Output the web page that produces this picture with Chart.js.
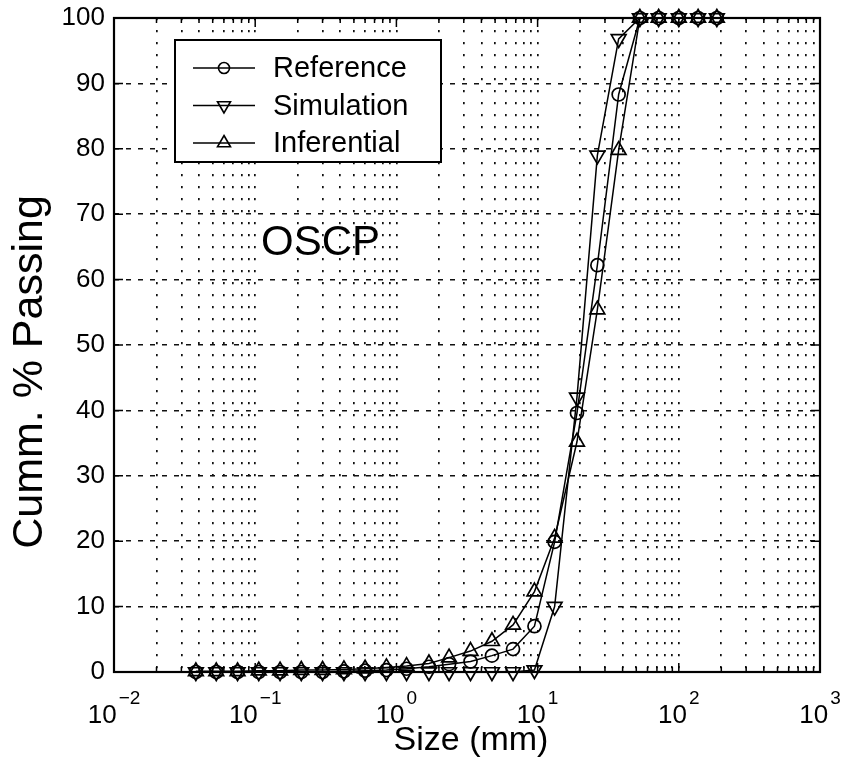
<!DOCTYPE html>
<html>
<head>
<meta charset="utf-8">
<script src="https://cdn.jsdelivr.net/npm/chart.js@4/dist/chart.umd.min.js"></script>
<style>
  html, body { margin: 0; padding: 0; background: #fff; }
  #wrap { width: 847px; height: 769px; }
</style>
</head>
<body>
<div id="wrap"><canvas id="c" width="847" height="769"></canvas></div>
<script>
// Sieve sizes (mm) and cumulative % passing for each method
const sizes = [0.038, 0.053, 0.075, 0.106, 0.15, 0.212, 0.3, 0.425, 0.6, 0.85,
               1.18, 1.7, 2.36, 3.35, 4.75, 6.7, 9.5, 13.2, 19, 26.5,
               37.5, 53, 72, 100, 137, 186];
const reference = [0, 0, 0, 0, 0, 0, 0, 0.1, 0.2, 0.3,
                   0.5, 0.8, 1.2, 1.6, 2.5, 3.5, 7, 19.9, 39.6, 62.2,
                   88.3, 100, 100, 100, 100, 100];
const simulation = [0, 0, 0, 0, 0, 0, 0, 0, 0, 0,
                    0, 0, 0, 0, 0, 0, 0.3, 10, 42, 79,
                    96.8, 100, 100, 100, 100, 100];
const inferential = [0.1, 0.1, 0.1, 0.2, 0.2, 0.3, 0.3, 0.4, 0.5, 0.7,
                     0.9, 1.3, 2.2, 3.2, 4.7, 7.2, 12.3, 20.5, 35.2, 55.4,
                     79.8, 100, 100, 100, 100, 100];

const seriesNames = ['Reference', 'Simulation', 'Inferential'];
const yTickValues = [0, 10, 20, 30, 40, 50, 60, 70, 80, 90, 100];
const xDecades = [-2, -1, 0, 1, 2, 3];
const xTitle = 'Size (mm)';
const yTitle = 'Cumm. % Passing';
const panelLabel = 'OSCP';
const panelLabelAt = { x: 0.29, y: 65.5 };

const FONT = '"Liberation Sans", Arial, Helvetica, sans-serif';

function toPoints(vals) {
  return sizes.map((s, i) => ({ x: s, y: vals[i] }));
}

const markerStyles = [
  { pointStyle: 'circle', rotation: 0, radius: 6.5 },
  { pointStyle: 'triangle', rotation: 180, radius: 8.5 },
  { pointStyle: 'triangle', rotation: 0, radius: 8.5 }
];

const seriesValues = [reference, simulation, inferential];

const datasets = seriesValues.map((vals, i) => ({
  label: seriesNames[i],
  data: toPoints(vals),
  borderColor: '#000',
  borderWidth: 1.5,
  backgroundColor: 'rgba(0,0,0,0)',
  pointStyle: markerStyles[i].pointStyle,
  pointRotation: markerStyles[i].rotation,
  pointRadius: markerStyles[i].radius,
  pointBorderWidth: 1.7,
  pointBorderColor: '#000',
  pointBackgroundColor: 'rgba(0,0,0,0)',
  tension: 0,
  clip: false
}));

// Closed box around the plot with inward tick marks on all four sides
const framePlugin = {
  id: 'frame',
  beforeDatasetsDraw(chart) {
    const { ctx, chartArea: a, scales } = chart;
    ctx.save();
    ctx.strokeStyle = '#000';
    ctx.lineWidth = 1.5;
    ctx.beginPath();
    scales.x.ticks.forEach(t => {
      const px = scales.x.getPixelForValue(t.value);
      const len = t.major ? 9 : 5;
      ctx.moveTo(px, a.bottom); ctx.lineTo(px, a.bottom - len);
      ctx.moveTo(px, a.top); ctx.lineTo(px, a.top + len);
    });
    scales.y.ticks.forEach(t => {
      const py = scales.y.getPixelForValue(t.value);
      ctx.moveTo(a.left, py); ctx.lineTo(a.left + 9, py);
      ctx.moveTo(a.right, py); ctx.lineTo(a.right - 9, py);
    });
    ctx.stroke();
    ctx.lineWidth = 2.2;
    ctx.strokeRect(a.left, a.top, a.right - a.left, a.bottom - a.top);
    ctx.restore();
  }
};

// Power-of-ten labels under the log axis, drawn with raised exponents,
// and the two axis titles
const axisTextPlugin = {
  id: 'axisText',
  afterDraw(chart) {
    const { ctx, scales, chartArea: a } = chart;
    const xs = scales.x;
    const base = a.bottom;
    ctx.save();
    ctx.fillStyle = '#000';
    ctx.textBaseline = 'alphabetic';
    xDecades.forEach(d => {
      const px = xs.getPixelForValue(Math.pow(10, d));
      const exp = d < 0 ? '\u2212' + Math.abs(d) : String(d);
      ctx.font = '26px ' + FONT;
      const wBase = ctx.measureText('10').width;
      ctx.font = '19px ' + FONT;
      const wExp = ctx.measureText(exp).width;
      const total = wBase + 2 + wExp;
      const start = px - total / 2;
      ctx.textAlign = 'left';
      ctx.font = '26px ' + FONT;
      ctx.fillText('10', start, base + 51);
      ctx.font = '19px ' + FONT;
      ctx.fillText(exp, start + wBase + 2, base + 32);
    });

    ctx.textAlign = 'center';
    ctx.textBaseline = 'middle';
    ctx.font = '34px ' + FONT;
    ctx.fillText(xTitle, 471, 741);

    ctx.translate(30, 372);
    ctx.rotate(-Math.PI / 2);
    ctx.font = '43px ' + FONT;
    ctx.fillText(yTitle, 0, 0);
    ctx.restore();
  }
};

// Legend box inside the axes, plus the panel tag
const insetPlugin = {
  id: 'inset',
  afterDraw(chart) {
    const { ctx, chartArea: a, scales } = chart;
    ctx.save();
    const bx = a.left + 61, by = a.top + 22, bw = 266, bh = 122;
    ctx.fillStyle = '#fff';
    ctx.fillRect(bx, by, bw, bh);
    ctx.strokeStyle = '#000';
    ctx.lineWidth = 2;
    ctx.strokeRect(bx, by, bw, bh);
    chart.data.datasets.forEach((ds, i) => {
      const cy = by + 28 + i * 37.5;
      ctx.strokeStyle = '#000';
      ctx.lineWidth = 1.5;
      ctx.beginPath();
      ctx.moveTo(bx + 18, cy);
      ctx.lineTo(bx + 80, cy);
      ctx.stroke();
      ctx.fillStyle = 'rgba(0,0,0,0)';
      ctx.lineWidth = 1.6;
      Chart.helpers.drawPoint(ctx, {
        pointStyle: ds.pointStyle,
        rotation: ds.pointRotation,
        radius: ds.pointStyle === 'circle' ? 5.5 : 7.5,
        borderWidth: 1.6
      }, bx + 49, cy);
      ctx.fillStyle = '#000';
      ctx.font = '29px ' + FONT;
      ctx.textAlign = 'left';
      ctx.textBaseline = 'middle';
      ctx.fillText(ds.label, bx + 98, cy + 1);
    });
    ctx.fillStyle = '#000';
    ctx.font = '42px ' + FONT;
    ctx.textAlign = 'center';
    ctx.textBaseline = 'middle';
    ctx.fillText(panelLabel,
      scales.x.getPixelForValue(panelLabelAt.x),
      scales.y.getPixelForValue(panelLabelAt.y));
    ctx.restore();
  }
};

new Chart(document.getElementById('c'), {
  type: 'line',
  data: { datasets },
  options: {
    responsive: false,
    devicePixelRatio: 1,
    animation: false,
    layout: { padding: { top: 18, right: 27, bottom: 0, left: 0 } },
    plugins: { legend: { display: false }, tooltip: { enabled: false } },
    scales: {
      x: {
        type: 'logarithmic',
        min: 0.01,
        max: 1000,
        position: 'bottom',
        afterBuildTicks(s) {
          const t = [];
          for (let d = -2; d <= 3; d++) {
            for (let m = 1; m <= 9; m++) {
              if (d === 3 && m > 1) break;
              t.push({ value: m * Math.pow(10, d), major: m === 1 });
            }
          }
          s.ticks = t;
        },
        ticks: { display: false, autoSkip: false },
        grid: { color: '#111', lineWidth: 1.7, drawTicks: false },
        border: { display: false, dash: [2.2, 9.8] },
        afterFit(s) {
          s.height = 97;
          s.paddingLeft = 0; s.paddingRight = 0;
        }
      },
      y: {
        min: 0,
        max: 100,
        afterBuildTicks(s) { s.ticks = yTickValues.map(v => ({ value: v })); },
        ticks: { color: '#000', font: { family: FONT, size: 26 }, padding: 9 },
        grid: { color: '#111', lineWidth: 1.5, drawTicks: false },
        border: { display: false, dash: [5, 7] },
        afterFit(s) {
          s.width = 114;
          s.paddingTop = 0; s.paddingBottom = 0;
        }
      }
    }
  },
  plugins: [framePlugin, axisTextPlugin, insetPlugin]
});
</script>
</body>
</html>
